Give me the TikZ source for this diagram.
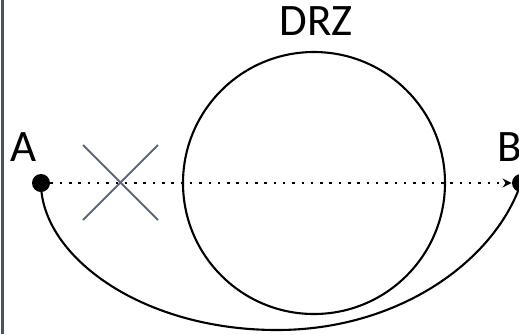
\documentclass[tikz,border=0pt]{standalone}
\usepackage{fontspec}
\setmainfont{Carlito}
\usetikzlibrary{arrows.meta}
\definecolor{slate}{HTML}{44546A}
\definecolor{crossc}{HTML}{5A6881}
\begin{document}
\begin{tikzpicture}[x=0.5pt,y=-0.5pt,
 dot/.style={circle,fill=black,inner sep=0pt,minimum size=9pt},
 zone/.style={circle,draw=black,line width=1.05pt,inner sep=0pt,minimum size=131pt},
 lbl/.style={font=\fontsize{22.5}{27}\selectfont,anchor=base,inner sep=0pt},
 dotline/.style={line width=1.25pt,dash pattern=on 1.25pt off 3.4pt,-{Stealth[length=4.5pt,width=4.5pt]}},
 curve/.style={line width=1.05pt},
 crossline/.style={crossc,line width=1pt}]
\useasboundingbox (0,0) rectangle (519,334);
\draw[slate,line width=1.5pt] (2.5,0) -- (2.5,334);
\node[zone] (drz) at (314,183) {};
\node[lbl] (drzl) at (316,35) {DRZ};
\node[dot] (A) at (41,183) {};
\node[dot] (B) at (521,183) {};
\node[lbl] (Al) at (24,161) {A};
\node[lbl] (Bl) at (510,161) {B};
\coordinate (x1) at (83,145);
\coordinate (x2) at (158,220);
\coordinate (x3) at (158,145);
\coordinate (x4) at (83,220);
\draw[crossline] (x1) -- (x2);
\draw[crossline] (x3) -- (x4);
\draw[dotline] (A.east) -- (B.west);
\draw[curve] (A.center) .. controls (41,255) and (140,330) .. (277,330) .. controls (400,330) and (495,260) .. (B.center);
\end{tikzpicture}
\end{document}
